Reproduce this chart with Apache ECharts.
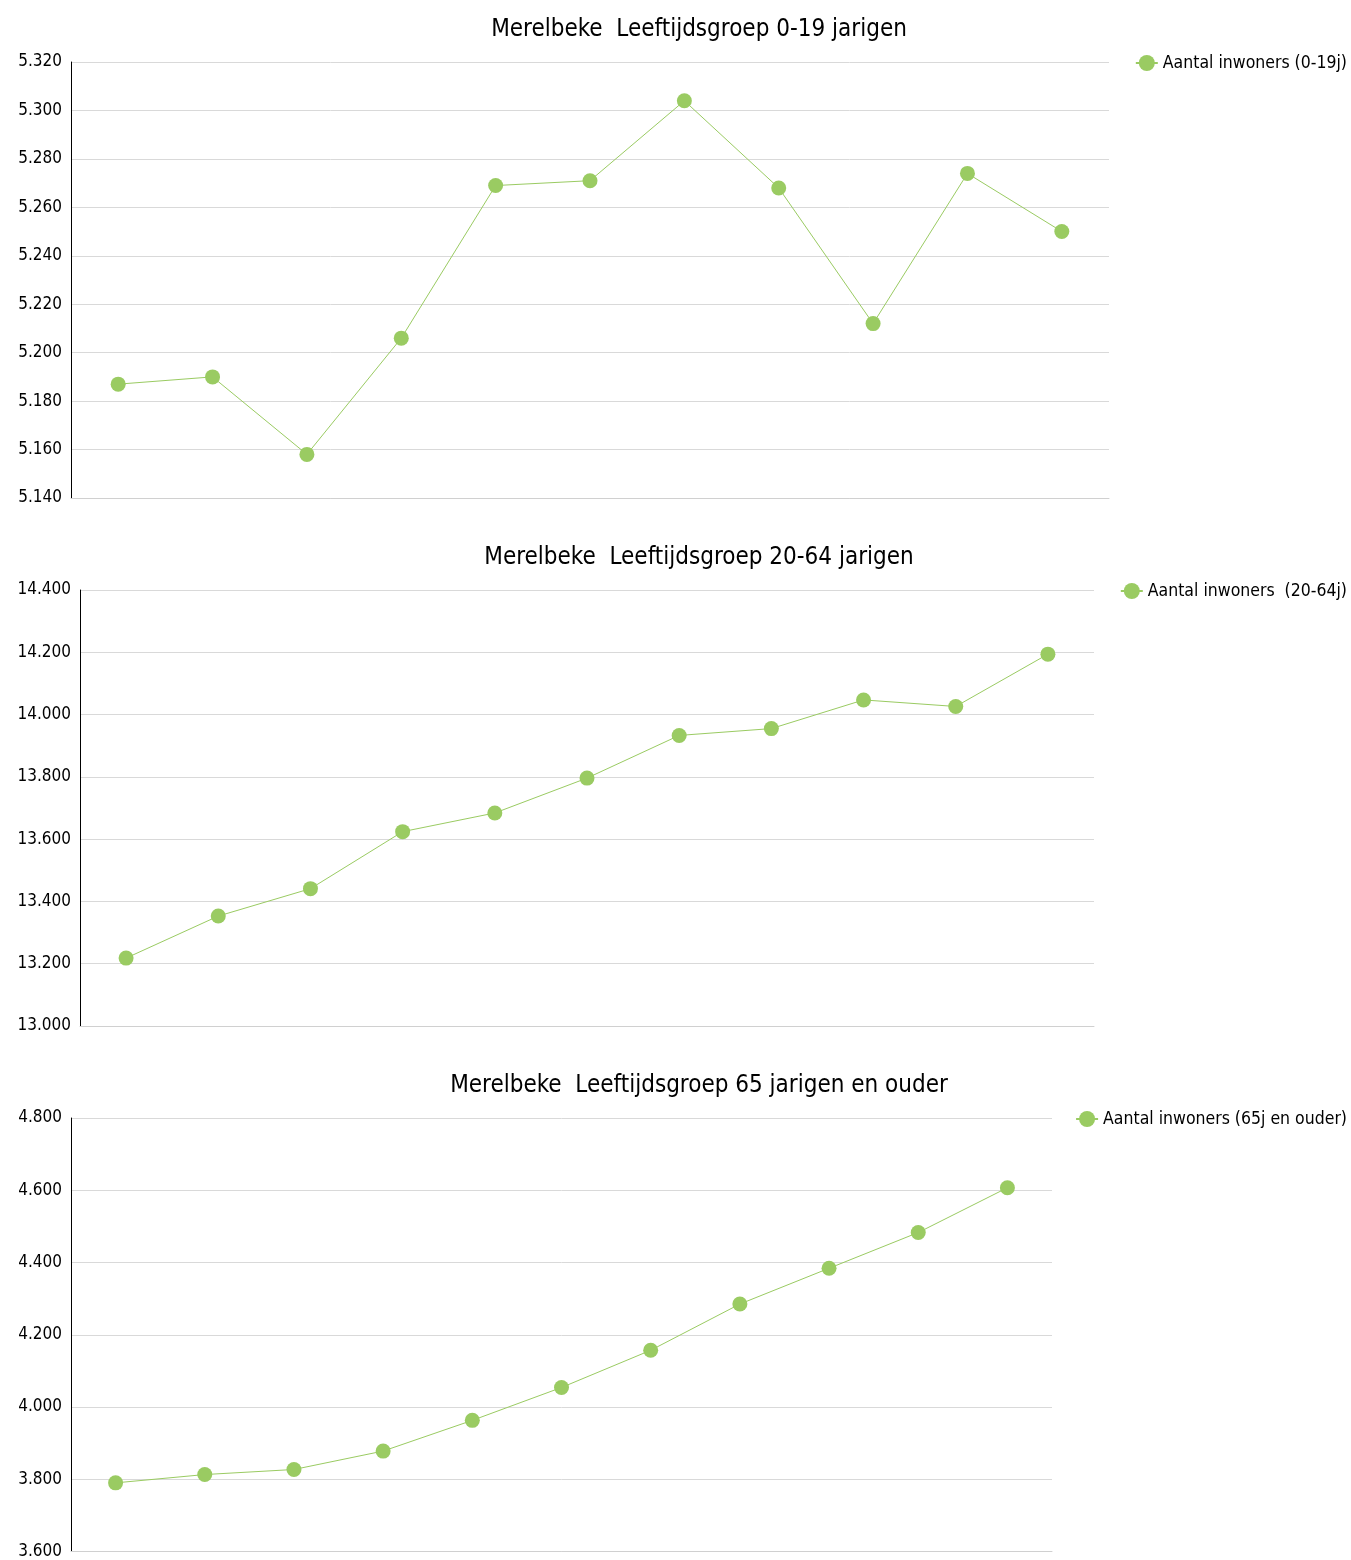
<!DOCTYPE html>
<html>
<head>
<meta charset="utf-8">
<script src="https://cdn.jsdelivr.net/npm/echarts@6/dist/echarts.min.js"></script>
<style>
html,body{margin:0;padding:0;background:#fff;}
#main{width:1351px;height:1560px;}
</style>
</head>
<body>
<div id="main"></div>
<script>
// Categories (years, not shown on the axis in the reference)
const categories = ['1','2','3','4','5','6','7','8','9','10','11'];

const titles = [
  'Merelbeke  Leeftijdsgroep 0-19 jarigen',
  'Merelbeke  Leeftijdsgroep 20-64 jarigen',
  'Merelbeke  Leeftijdsgroep 65 jarigen en ouder'
];
const seriesNames = [
  'Aantal inwoners (0-19j)',
  'Aantal inwoners  (20-64j)',
  'Aantal inwoners (65j en ouder)'
];

const values0to19 = [5187, 5190, 5158, 5206, 5269, 5271, 5304, 5268, 5212, 5274, 5250];
const values20to64 = [13218, 13353, 13441, 13624, 13684, 13796, 13933, 13955, 14047, 14026, 14194];
const values65plus = [3790, 3813, 3827, 3878, 3963, 4054, 4157, 4285, 4384, 4483, 4607];

const axisMin = [5140, 13000, 3600];
const axisMax = [5320, 14400, 4800];
const axisStep = [20, 200, 200];

const dataSets = [values0to19, values20to64, values65plus];

const FONT = '"DejaVu Sans Condensed", "DejaVu Sans", sans-serif';
const GREEN = '#9ACB62';

function fmt(v){
  return String(Math.round(v)).replace(/\B(?=(\d{3})+(?!\d))/g, '.');
}

const grids = [
  {left: 71, right: 242, top: 62, height: 436},
  {left: 80, right: 257, top: 590, height: 436},
  {left: 71, right: 299, top: 1118, height: 436}
];
const titleTops = [13, 541, 1069];

const option = {
  animation: false,
  backgroundColor: '#fff',
  textStyle: {fontFamily: FONT},
  title: titles.map((t, i) => ({
    text: t,
    left: 694,
    top: titleTops[i],
    textAlign: 'center',
    textStyle: {fontFamily: FONT, fontSize: 24, fontWeight: 'normal', color: '#000'}
  })),
  legend: seriesNames.map((n, i) => ({
    data: [n],
    right: -1,
    top: grids[i].top - 13,
    itemWidth: 22,
    itemHeight: 20,
    itemGap: 4,
    textStyle: {fontFamily: FONT, fontSize: 17.5, color: '#000'}
  })),
  grid: grids.map(g => Object.assign({containLabel: false}, g)),
  xAxis: grids.map((g, i) => ({
    type: 'category',
    gridIndex: i,
    data: categories,
    boundaryGap: true,
    axisLabel: {show: false},
    axisTick: {show: false},
    axisLine: {lineStyle: {color: '#d0d0d0', width: 1}}
  })),
  yAxis: grids.map((g, i) => ({
    type: 'value',
    gridIndex: i,
    min: axisMin[i],
    max: axisMax[i],
    interval: axisStep[i],
    axisLine: {show: true, lineStyle: {color: '#000', width: 1}},
    axisTick: {show: false},
    axisLabel: {fontFamily: FONT, fontSize: 17, color: '#000', margin: 9, formatter: fmt, padding: [3, 0, 0, 0]},
    splitLine: {lineStyle: {color: '#d9d9d9', width: 1}}
  })),
  series: dataSets.map((d, i) => ({
    name: seriesNames[i],
    type: 'line',
    xAxisIndex: i,
    yAxisIndex: i,
    data: d,
    symbol: 'circle',
    symbolSize: 15,
    itemStyle: {color: GREEN},
    lineStyle: {color: GREEN, width: 1}
  }))
};

const chart = echarts.init(document.getElementById('main'), null, {renderer: 'canvas'});
chart.setOption(option);
</script>
</body>
</html>
